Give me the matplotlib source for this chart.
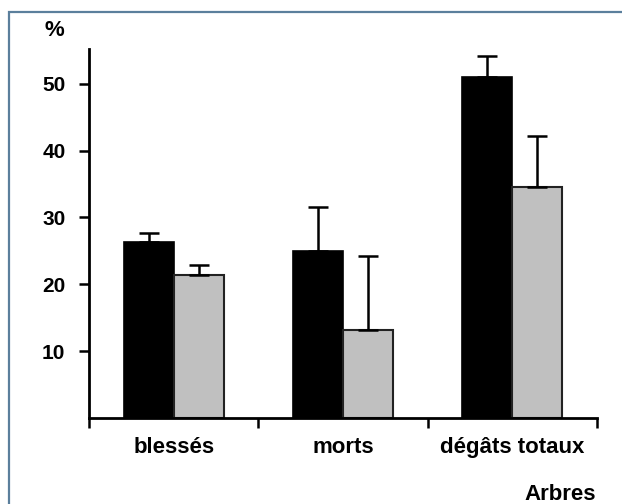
import numpy as np
import matplotlib
matplotlib.use("Agg")
import matplotlib.pyplot as plt
from matplotlib.patches import Rectangle

plt.rcParams['font.family'] = ['Liberation Sans', 'DejaVu Sans']
plt.rcParams['font.weight'] = 'bold'

categories = ["blessés", "morts", "dégâts totaux"]
black_vals = [26.3, 25.0, 51.0]
black_err = [1.4, 6.6, 3.1]
grey_vals = [21.4, 13.2, 34.5]
grey_err = [1.5, 11.0, 7.7]
yticks = [10, 20, 30, 40, 50]

fig = plt.figure(figsize=(6.22, 5.04), dpi=100)
ax = fig.add_axes([89/622, 1 - 418/504, (597 - 89)/622, (418 - 49)/504])

x = np.arange(len(categories))
w = 0.295
ax.bar(x - w/2, black_vals, w, color="black", edgecolor="black", linewidth=1.2,
       yerr=[np.zeros(3), black_err], error_kw=dict(ecolor="black", elinewidth=1.8, capsize=7, capthick=1.8))
ax.bar(x + w/2, grey_vals, w, color="#c0c0c0", edgecolor="#222222", linewidth=1.5,
       yerr=[np.zeros(3), grey_err], error_kw=dict(ecolor="black", elinewidth=1.8, capsize=7, capthick=1.8))

ax.set_xlim(-0.5, 2.5)
ax.set_ylim(0, 55.2)
ax.set_yticks(yticks)
ax.set_yticklabels([str(v) for v in yticks], fontsize=15, fontweight="bold")
ax.set_xticks([-0.5, 0.5, 1.5, 2.5])
ax.set_xticklabels([])
ax.set_xticks(x, minor=True)
ax.set_xticklabels(categories, minor=True, fontsize=16, fontweight="bold")
ax.tick_params(axis="x", which="minor", length=0, pad=14)
ax.tick_params(axis="both", which="major", direction="out", length=7, width=1.8)
ax.tick_params(axis="y", pad=10)

for s in ["top", "right"]:
    ax.spines[s].set_visible(False)
for s in ["left", "bottom"]:
    ax.spines[s].set_linewidth(2)

fig.text(54/622, 1 - 31/504, "%", fontsize=16, fontweight="bold", ha="center", va="center")
fig.text(596/622, 1 - 495/504, "Arbres", fontsize=16, fontweight="bold", ha="right", va="center")

fig.patches.append(Rectangle((8.5/622, -0.1), 1.2, 1 - 12/504 + 0.1, transform=fig.transFigure,
                             fill=False, edgecolor="#5b7f9c", linewidth=1.6))

fig.savefig("out.png", dpi=100)
